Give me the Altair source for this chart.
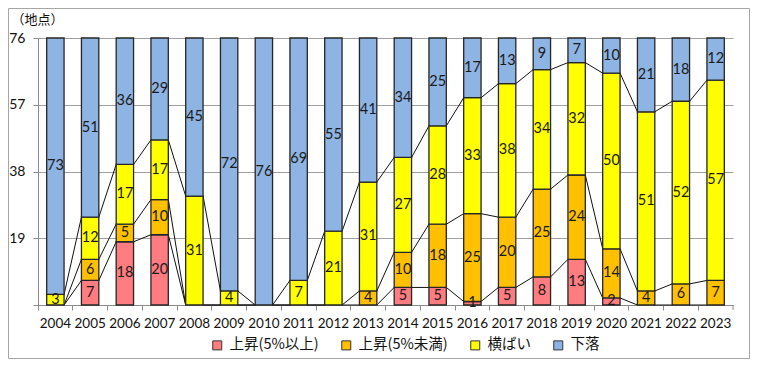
import altair as alt
import pandas as pd

years = [str(y) for y in range(2004, 2024)]
up5 = [0, 7, 18, 20, 0, 0, 0, 0, 0, 0, 5, 5, 1, 5, 8, 13, 2, 0, 0, 0]
upless = [0, 6, 5, 10, 0, 0, 0, 0, 0, 4, 10, 18, 25, 20, 25, 24, 14, 4, 6, 7]
flat = [3, 12, 17, 17, 31, 4, 0, 7, 21, 31, 27, 28, 33, 38, 34, 32, 50, 51, 52, 57]
down = [73, 51, 36, 29, 45, 72, 76, 69, 55, 41, 34, 25, 17, 13, 9, 7, 10, 21, 18, 12]
cats = ["上昇(5%以上)", "上昇(5%未満)", "横ばい", "下落"]
colors = ["#FF7C80", "#FFC000", "#FFFF00", "#8EB4E3"]
y_ticks = [0, 19, 38, 57, 76]

NUM_FONT = "Lato"
JP_FONT = "Noto Sans CJK JP"

# segments
rows = []
for i, yr in enumerate(years):
    s = 0
    for k, (c, vals) in enumerate(zip(cats, [up5, upless, flat, down])):
        v = vals[i]
        rows.append(dict(year=yr, cat=c, value=v, start=s, end=s + v, mid=s + v / 2, k=k))
        s += v
seg = pd.DataFrame(rows)
seg = seg[seg["value"] > 0]

# series lines
lrows = []
for i in range(len(years) - 1):
    c0 = 0
    c1 = 0
    for vals in [up5, upless, flat]:
        c0 += vals[i]
        c1 += vals[i + 1]
        lrows.append(dict(year=years[i], nxt=years[i + 1], y=c0, y2=c1))
lines = pd.DataFrame(lrows)

xscale = alt.Scale(domain=years, paddingInner=0, paddingOuter=0)
yscale = alt.Scale(domain=[0, 76], nice=False, zero=True)

xaxis = alt.Axis(
    title=None, bandPosition=0, labelAngle=0, labelFont=NUM_FONT, labelFontSize=13.5,
    labelColor="#111", labelPadding=6, tickSize=5, tickColor="#8c8c8c",
    domainColor="#8c8c8c", grid=False,
)
yaxis = alt.Axis(
    values=y_ticks, labelExpr="datum.value == 0 ? '' : datum.label",
    labelFont=NUM_FONT, labelFontSize=14, labelColor="#111", labelPadding=8,
    tickSize=5, tickColor="#8c8c8c", domainColor="#8c8c8c",
    grid=True, gridColor="#a0a0a0", gridWidth=1,
    title="（地点）", titleAngle=0, titleAlign="left", titleBaseline="middle",
    titleX=-27, titleY=-19, titleFont=JP_FONT, titleFontSize=13,
    titleFontWeight="normal", titleColor="#111",
)

base_lines = alt.Chart(lines).mark_rule(color="#111", strokeWidth=1).encode(
    x=alt.X("year:O", scale=xscale, bandPosition=0.75, axis=xaxis),
    x2=alt.X2("nxt:O", bandPosition=0.25),
    y=alt.Y("y:Q", scale=yscale, axis=yaxis),
    y2="y2:Q",
)

bars = alt.Chart(seg).mark_bar(
    stroke="#262626", strokeWidth=1.3, width=alt.RelativeBandSize(0.5)
).encode(
    x=alt.X("year:O", scale=xscale, axis=xaxis),
    y=alt.Y("start:Q", scale=yscale, axis=yaxis),
    y2="end:Q",
    color=alt.Color(
        "cat:N",
        scale=alt.Scale(domain=cats, range=colors),
        legend=alt.Legend(
            title=None, orient="none", direction="horizontal", legendX=172, legendY=300,
            symbolType="square", symbolSize=81, symbolStrokeColor="#333",
            symbolStrokeWidth=1, labelFont=JP_FONT, labelFontSize=14.5,
            labelColor="#111", labelOffset=5, columnPadding=20, padding=0,
        ),
    ),
)

labels = alt.Chart(seg).mark_text(
    font=NUM_FONT, fontSize=14.5, color="#1a1a1a", baseline="middle", align="center"
).encode(
    x=alt.X("year:O", scale=xscale),
    y=alt.Y("mid:Q", scale=yscale),
    text="value:Q",
)

end_tick = alt.Chart(pd.DataFrame({"a": [0]})).mark_rule(color="#8c8c8c").encode(
    x=alt.value(695), y=alt.value(267), y2=alt.value(272)
)

frame = alt.Chart(pd.DataFrame({"a": [0]})).mark_rect(
    fill=None, stroke="#a6a6a6", strokeWidth=1
).encode(
    x=alt.value(-29.5), x2=alt.value(711.5), y=alt.value(-29.5), y2=alt.value(320.5)
)

chart = alt.layer(frame, base_lines, bars, labels, end_tick).properties(
    width=695, height=267,
    autosize=alt.AutoSizeParams(type="none"),
    padding={"left": 30, "top": 30, "right": 17, "bottom": 54},
).configure_view(stroke=None)

chart.save("out.html", embed_options={"renderer": "svg", "actions": False})
